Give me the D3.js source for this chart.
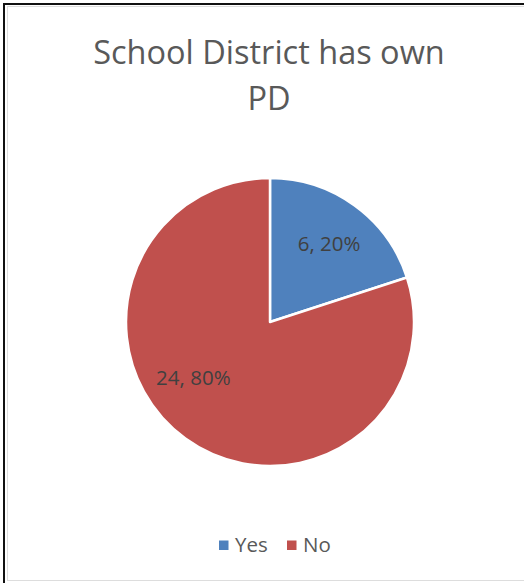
<!DOCTYPE html>
<html><head><meta charset="utf-8">
<script src="https://cdn.jsdelivr.net/npm/d3@7"></script>
<style>body{margin:0;background:#fff;}svg{display:block;}</style>
</head><body>
<script>
const categories = ["Yes", "No"];
const values = [6, 24];
const percents = ["20%", "80%"];
const colors = ["#4F81BD", "#C0504D"];
const titleLines = ["School District has own", "PD"];

const W = 524, H = 583;
const svg = d3.select("body").append("svg").attr("width", W).attr("height", H);
svg.append("rect").attr("width", W).attr("height", H).attr("fill", "#fff");
// frame
svg.append("line").attr("x1",4).attr("y1",3).attr("x2",4).attr("y2",H).attr("stroke","#111").attr("stroke-width",2);
svg.append("line").attr("x1",3).attr("y1",4).attr("x2",W).attr("y2",4).attr("stroke","#111").attr("stroke-width",2);
svg.append("line").attr("x1",7.5).attr("y1",6).attr("x2",7.5).attr("y2",580).attr("stroke","#ddd").attr("stroke-width",1);
svg.append("line").attr("x1",7).attr("y1",6.5).attr("x2",W).attr("y2",6.5).attr("stroke","#ddd").attr("stroke-width",1);
svg.append("line").attr("x1",7).attr("y1",580.5).attr("x2",W).attr("y2",580.5).attr("stroke","#ddd").attr("stroke-width",1);

const font = "'Open Sans', 'Noto Sans', sans-serif";
svg.selectAll("text.title").data(titleLines).enter().append("text")
  .attr("x", 269).attr("y", (d,i)=>64 + i*46)
  .attr("text-anchor","middle").attr("font-family",font).attr("font-size",32.5)
  .attr("fill","#595959").text(d=>d);

const cx = 270, cy = 322, r = 144;
const data = categories.map((c,i)=>({cat:c, value:values[i], pct:percents[i], color:colors[i]}));
const pie = d3.pie().value(d=>d.value).sort(null);
const arc = d3.arc().innerRadius(0).outerRadius(r);
const g = svg.append("g").attr("transform",`translate(${cx},${cy})`);
const arcs = pie(data);
g.selectAll("path").data(arcs).enter().append("path")
  .attr("d", arc).attr("fill", d=>d.data.color)
  .attr("stroke","#fff").attr("stroke-width",2.5).attr("stroke-linejoin","round");

// label placement (Excel best fit)
function labelPos(d){
  if (d.index === 0) {
    const a = (d.startAngle + d.endAngle)/2 + 0.02;
    const rr = r*0.68;
    return [rr*Math.sin(a), -rr*Math.cos(a)];
  }
  const a = (d.startAngle + d.endAngle)/2 + 0.31;
  const rr = r*0.66;
  return [rr*Math.sin(a), -rr*Math.cos(a)];
}
g.selectAll("text.lbl").data(arcs).enter().append("text")
  .attr("transform", d=>`translate(${labelPos(d)})`)
  .attr("dy","0.35em").attr("text-anchor","middle")
  .attr("font-family",font).attr("font-size",20.5).attr("fill","#404040")
  .text(d=>`${d.data.value}, ${d.data.pct}`);

// legend
const legend = svg.append("g");
const items = [{x:219},{x:287}];
data.forEach((d,i)=>{
  const lg = legend.append("g").attr("transform",`translate(${items[i].x},545)`);
  lg.append("rect").attr("x",0).attr("y",-4.5).attr("width",9.5).attr("height",9.5).attr("fill",d.color);
  lg.append("text").attr("x",16).attr("y",0).attr("dy","0.35em")
    .attr("font-family",font).attr("font-size",20.5).attr("fill","#595959").text(d.cat);
});
</script>
</body></html>
